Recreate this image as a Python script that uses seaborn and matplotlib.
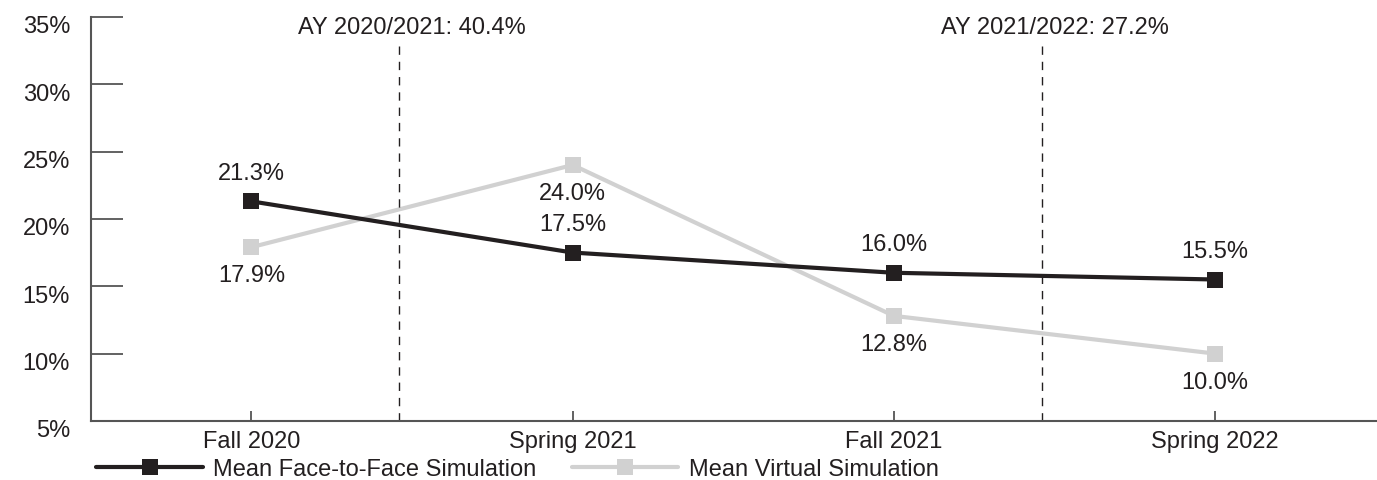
import pandas as pd
import numpy as np
import matplotlib
matplotlib.use("Agg")
import matplotlib.pyplot as plt
import matplotlib.transforms as mtransforms
import seaborn as sns

sns.set_style("white")
plt.rcParams["font.family"] = ["Liberation Sans", "DejaVu Sans"]

# data
terms = ["Fall 2020", "Spring 2021", "Fall 2021", "Spring 2022"]
face_to_face = [21.3, 17.5, 16.0, 15.5]
virtual = [17.9, 24.0, 12.8, 10.0]
series_names = ["Mean Face-to-Face Simulation", "Mean Virtual Simulation"]
year_labels = ["AY 2020/2021: 40.4%", "AY 2021/2022: 27.2%"]
year_split = [0.46, 2.46]

df = pd.DataFrame({
    "term": terms * 2,
    "pos": list(range(len(terms))) * 2,
    "value": face_to_face + virtual,
    "series": [series_names[0]] * 4 + [series_names[1]] * 4,
})

dark = "#231f20"
light = "#d1d1d1"
fs = 17

fig = plt.figure(figsize=(13.77, 4.8), dpi=100)
ax = fig.add_axes([0.066, 0.123, 0.933, 0.842])

# draw virtual first so face-to-face sits on top
sns.lineplot(
    data=df, x="pos", y="value", hue="series",
    palette={series_names[0]: dark, series_names[1]: light},
    hue_order=series_names[::-1],
    style="series", markers={series_names[0]: "s", series_names[1]: "s"},
    dashes=False, markersize=12, markeredgewidth=0, linewidth=3,
    ax=ax, legend=False,
)

# value labels: face-to-face above, virtual below
for i, v in enumerate(face_to_face):
    ax.annotate(f"{v:.1f}%", (i, v), xytext=(0, 20), textcoords="offset points",
                ha="center", va="center", fontsize=fs, color=dark)
for i, v in enumerate(virtual):
    ax.annotate(f"{v:.1f}%", (i, v), xytext=(0, -21), textcoords="offset points",
                ha="center", va="center", fontsize=fs, color=dark)

# academic-year separators
for xs, lab in zip(year_split, year_labels):
    ax.axvline(xs, ymax=0.93, color=dark, linestyle=(0, (6, 5)), linewidth=1)
    ax.text(xs + 0.04, 34.2, lab, ha="center", va="center", fontsize=fs, color=dark)

ax.set_xlim(-0.5, 3.5)
ax.set_ylim(5, 35)
ax.set_xticks(range(len(terms)))
ax.set_xticklabels(terms)
ax.set_yticks(range(5, 36, 5))
ax.set_yticklabels([f"{t}%" for t in range(5, 36, 5)])
ax.set_xlabel("")
ax.set_ylabel("")

for s in ["top", "right"]:
    ax.spines[s].set_visible(False)
for s in ["left", "bottom"]:
    ax.spines[s].set_color("#555555")
    ax.spines[s].set_linewidth(1.5)

ax.tick_params(axis="y", direction="in", length=23, width=1.3, color="#555555",
               labelsize=fs, labelcolor=dark, pad=15, left=True)
ax.tick_params(axis="x", direction="in", length=7, width=1.3, color="#555555",
               labelsize=fs, labelcolor=dark, pad=7, bottom=True)

# y labels sit a little below their ticks in the original
shift = mtransforms.ScaledTranslation(0, -8 / 100, fig.dpi_scale_trans)
for lab in ax.get_yticklabels():
    lab.set_transform(lab.get_transform() + shift)

handles = [
    plt.Line2D([], [], color=dark, marker="s", markersize=12, markeredgewidth=0, linewidth=3),
    plt.Line2D([], [], color=light, marker="s", markersize=12, markeredgewidth=0, linewidth=3),
]
ax.legend(handles, series_names, loc="upper left", bbox_to_anchor=(-0.003, -0.07),
          ncol=2, frameon=False, fontsize=fs, handlelength=4.5, handletextpad=0.45,
          columnspacing=1.5, borderaxespad=0, labelcolor=dark)

fig.savefig("out.png", dpi=100)
